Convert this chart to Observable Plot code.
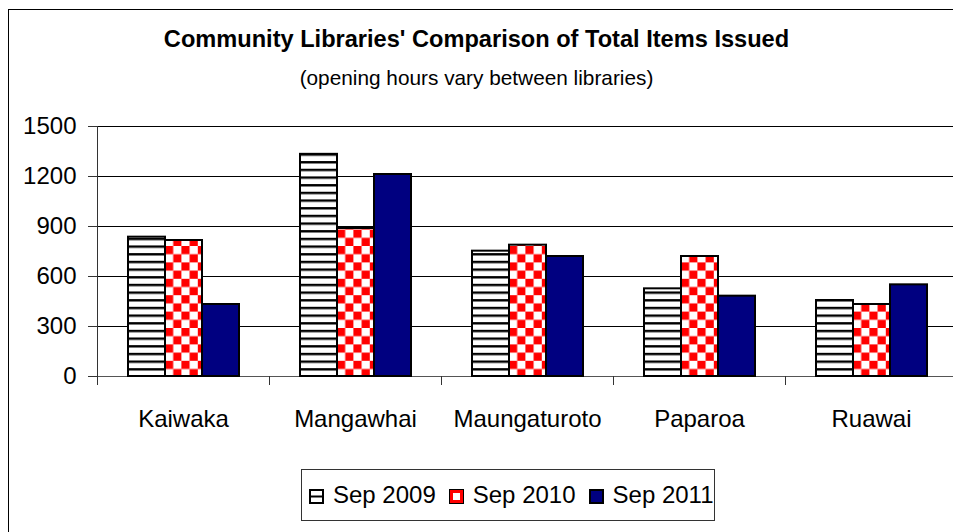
<!DOCTYPE html>
<html>
<head>
<meta charset="utf-8">
<script src="https://cdn.jsdelivr.net/npm/d3@7"></script>
<script src="https://cdn.jsdelivr.net/npm/@observablehq/plot@0.6"></script>
<style>
  html, body { margin: 0; padding: 0; background: #fff; }
  #wrap { position: relative; width: 953px; height: 532px; overflow: hidden; background: #fff;
          font-family: "Liberation Sans", Arial, sans-serif; color: #000; }
  #frame { position: absolute; left: 8px; top: 9px; width: 1000px; height: 600px;
           border: 1px solid #000; box-sizing: border-box; }
  #chart { position: absolute; left: 0; top: 0; width: 960px; height: 532px; }
  #chart svg { max-width: none !important; }
  #title { position: absolute; left: 0; width: 953px; top: 27px; text-align: center;
           font-weight: bold; font-size: 23.6px; line-height: 24px; white-space: nowrap; }
  #subtitle { position: absolute; left: 0; width: 953px; top: 67px; text-align: center;
              font-size: 20.8px; line-height: 21px; white-space: nowrap; }
  #legend { position: absolute; left: 301px; top: 469px; width: 414px; height: 52px;
            border: 1px solid #333; box-sizing: border-box; display: flex; align-items: center;
            padding-left: 7px; font-size: 24px; white-space: nowrap; background: #fff; }
  #legend .item { display: flex; align-items: center; margin-right: 13px; }
  #legend svg { display: block; margin-right: 9px; margin-top: 3px; }
</style>
</head>
<body>
<div id="wrap">
  <div id="frame"></div>
  <div id="chart"></div>
  <div id="title">Community Libraries' Comparison of Total Items Issued</div>
  <div id="subtitle">(opening hours vary between libraries)</div>
  <div id="legend"></div>
</div>
<script>
// ---- Data ----
const libraries = ["Kaiwaka", "Mangawhai", "Maungaturoto", "Paparoa", "Ruawai"];
const series = ["Sep 2009", "Sep 2010", "Sep 2011"];
const sep2009 = [836, 1333, 752, 526, 456];
const sep2010 = [816, 888, 788, 720, 432];
const sep2011 = [432, 1212, 720, 482, 550];
const yTicks = [0, 300, 600, 900, 1200, 1500];

const seriesValues = [sep2009, sep2010, sep2011];
const fills = ["url(#p2009)", "url(#p2010)", "#000080"];

const data = libraries.flatMap((library, i) =>
  series.map((s, j) => ({ library, series: s, value: seriesValues[j][i] }))
);

const W = 960, H = 532, mT = 126, mB = 156, mL = 96, mR = 3;
const plotH = H - mT - mB;

const chart = Plot.plot({
  width: W,
  height: H,
  marginTop: mT,
  marginBottom: mB,
  marginLeft: mL,
  marginRight: mR,
  style: { fontFamily: '"Liberation Sans", Arial, sans-serif', fontSize: "24px", color: "#000", background: "transparent", overflow: "visible", maxWidth: "none" },
  fx: { domain: libraries, padding: 0, axis: null },
  x: { domain: series, paddingInner: 0, paddingOuter: 0.766, axis: null },
  y: { domain: [0, 1500], axis: null },
  color: { domain: series, range: fills },
  marks: [
    Plot.gridY({ ticks: yTicks, stroke: "#000", strokeOpacity: 1 }),
    Plot.ruleY([0], { stroke: "#555" }),
    Plot.frame({ anchor: "left", facetAnchor: "left", insetBottom: -8, stroke: "#333" }),
    Plot.frame({ anchor: "left", insetTop: plotH, insetBottom: -8, stroke: "#333" }),
    Plot.barY(data, { fx: "library", x: "series", y: "value", fill: "series", stroke: "#000", strokeWidth: 2 }),
    Plot.axisY({ ticks: yTicks, tickSize: 9, tickPadding: 12, fontSize: 24, tickFormat: d => String(d), label: null, stroke: "#333" }),
    Plot.axisFx({ anchor: "bottom", tickSize: 0, tickPadding: 33, fontSize: 24, label: null })
  ]
});
chart.style.maxWidth = "none";

// pattern definitions used by the bar fills
const defs = d3.select(chart).insert("defs", ":first-child");
const p1 = defs.append("pattern").attr("id", "p2009").attr("patternUnits", "userSpaceOnUse")
  .attr("width", 8).attr("height", 7.67);
p1.append("rect").attr("width", 8).attr("height", 7.67).attr("fill", "#fff");
p1.append("rect").attr("y", 0).attr("width", 8).attr("height", 2.4).attr("fill", "#000");
const p2 = defs.append("pattern").attr("id", "p2010").attr("patternUnits", "userSpaceOnUse")
  .attr("width", 16.4).attr("height", 16.4);
p2.append("rect").attr("width", 16.4).attr("height", 16.4).attr("fill", "#fff");
p2.append("rect").attr("width", 8.2).attr("height", 8.2).attr("fill", "#ff0000");
p2.append("rect").attr("x", 8.2).attr("y", 8.2).attr("width", 8.2).attr("height", 8.2).attr("fill", "#ff0000");

document.getElementById("chart").appendChild(chart);

// ---- Legend ----
const legend = d3.select("#legend");
series.forEach((s, j) => {
  const item = legend.append("div").attr("class", "item");
  const sw = item.append("svg").attr("width", 15).attr("height", 15);
  if (j === 0) {
    sw.append("rect").attr("x", 1).attr("y", 1).attr("width", 13).attr("height", 13)
      .attr("fill", "#fff").attr("stroke", "#000").attr("stroke-width", 2);
    sw.append("line").attr("x1", 1).attr("x2", 14).attr("y1", 7.5).attr("y2", 7.5)
      .attr("stroke", "#000").attr("stroke-width", 2);
  } else if (j === 1) {
    sw.append("rect").attr("x", 0.5).attr("y", 0.5).attr("width", 14).attr("height", 14)
      .attr("fill", "#fff").attr("stroke", "#000").attr("stroke-width", 1);
    sw.append("rect").attr("x", 2.5).attr("y", 2.5).attr("width", 10).attr("height", 10)
      .attr("fill", "#fff").attr("stroke", "#ff0000").attr("stroke-width", 3);
  } else {
    sw.append("rect").attr("x", 1).attr("y", 1).attr("width", 13).attr("height", 13)
      .attr("fill", fills[2]).attr("stroke", "#000").attr("stroke-width", 2);
  }
  item.append("span").text(s);
});
</script>
</body>
</html>
